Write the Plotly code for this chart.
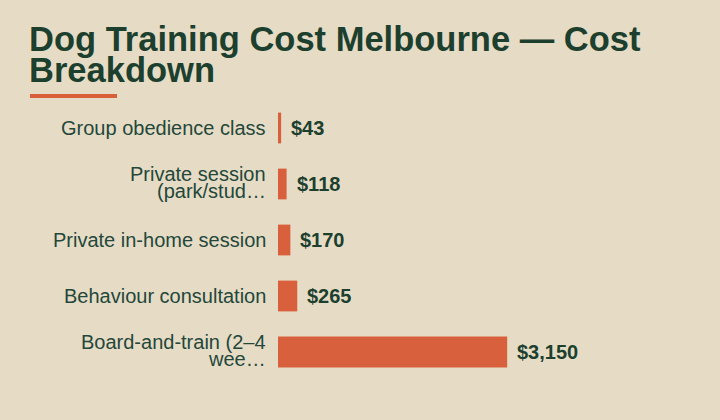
import plotly.graph_objects as go

# cost items, top to bottom
services = ['Group obedience class', 'Private session<br>(park/stud\u2026',
            'Private in-home session', 'Behaviour consultation',
            'Board-and-train (2\u20134<br>wee\u2026']
costs = [43, 118, 170, 265, 3150]
cost_labels = ['$43', '$118', '$170', '$265', '$3,150']

BG = '#E6DCC6'
GREEN = '#1D3F2E'
LABEL = '#24473A'
ORANGE = '#D9603D'
FONT = 'Liberation Sans, Arial, sans-serif'

fig = go.Figure(go.Bar(x=costs, y=services, orientation='h',
                       marker=dict(color=ORANGE, line=dict(width=0)),
                       hoverinfo='skip'))

# category names drawn as annotations so wrapped names keep a tight line spacing
for s in services:
    lines = s.split('<br>')
    shifts = [0] if len(lines) == 1 else [10, -7]
    for line, dy in zip(lines, shifts):
        fig.add_annotation(xref='paper', x=0, y=s, text=line, showarrow=False,
                           xanchor='right', xshift=-10, yshift=dy,
                           font=dict(family=FONT, size=20, color=LABEL))

# value labels just past the end of each bar
for c, s, lab in zip(costs, services, cost_labels):
    fig.add_annotation(x=c, y=s, text='<b>' + lab + '</b>', showarrow=False,
                       xanchor='left', xshift=8,
                       font=dict(family=FONT, size=20, color=GREEN))

# title in two tight lines
fig.add_annotation(xref='paper', yref='paper', x=-0.595, y=1.293, xanchor='left',
                   yanchor='top', showarrow=False,
                   text='<b>Dog Training Cost Melbourne \u2014 Cost</b>',
                   font=dict(family=FONT, size=34.5, color=GREEN))
fig.add_annotation(xref='paper', yref='paper', x=-0.595, y=1.183, xanchor='left',
                   yanchor='top', showarrow=False, text='<b>Breakdown</b>',
                   font=dict(family=FONT, size=34.5, color=GREEN))

# accent underline below the title
fig.add_shape(type='rect', xref='paper', yref='paper', x0=-0.5877, x1=-0.3815,
              y0=1.007, y1=1.0215, fillcolor=ORANGE, line=dict(width=0))

fig.update_layout(
    width=720, height=420,
    paper_bgcolor=BG, plot_bgcolor=BG,
    margin=dict(l=278, r=20, t=100, b=40),
    bargap=0.45,
    showlegend=False,
    font=dict(family=FONT, color=GREEN),
)
fig.update_xaxes(range=[0, 5800], visible=False)
fig.update_yaxes(autorange='reversed', showgrid=False, zeroline=False, showline=False,
                 showticklabels=False, ticks='')

fig.write_html('out.html', config={'displayModeBar': False},
               post_script="document.body.style.margin='0';")
